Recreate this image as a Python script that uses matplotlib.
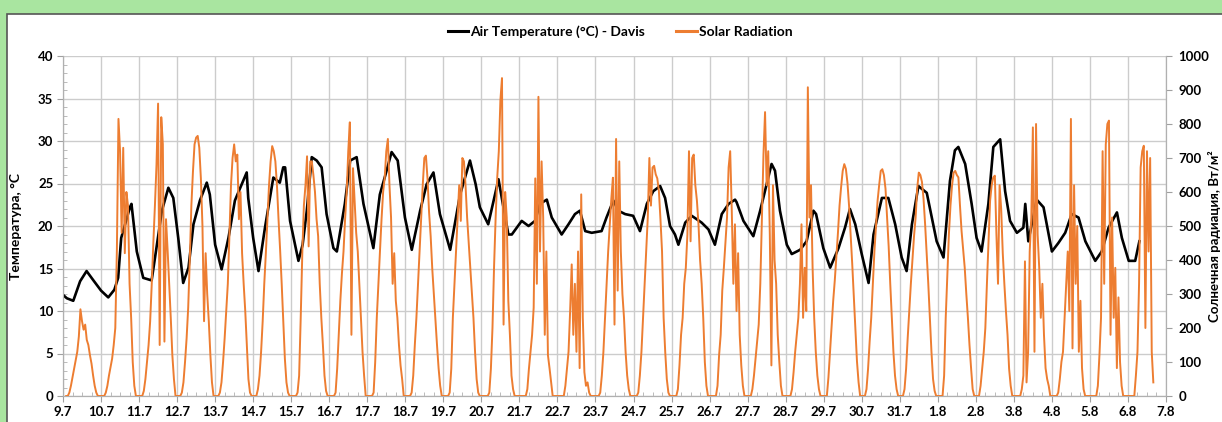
# -*- coding: utf-8 -*-
# air temperature (Davis) and solar radiation, 9.7 - 7.8

import matplotlib
matplotlib.use('Agg')
import matplotlib.pyplot as plt
from matplotlib.patches import Rectangle
from matplotlib.lines import Line2D
from matplotlib.ticker import MultipleLocator

plt.rcParams['font.family'] = ['Lato', 'Open Sans', 'DejaVu Sans']

# x axis day labels (one per day boundary)
day_labels = ['9.7', '10.7', '11.7', '12.7', '13.7', '14.7', '15.7', '16.7', '17.7', '18.7',
              '19.7', '20.7', '21.7', '22.7', '23.7', '24.7', '25.7', '26.7', '27.7', '28.7',
              '29.7', '30.7', '31.7', '1.8', '2.8', '3.8', '4.8', '5.8', '6.8', '7.8']

# air temperature, time in days from 9.7 00:00
temp_time = [0.0, 0.1, 0.27, 0.45, 0.62, 0.8, 1.0, 1.19, 1.35, 1.45, 1.53, 1.76, 1.8, 1.94,
             2.11, 2.33, 2.42, 2.6, 2.77, 2.9, 3.03, 3.16, 3.3, 3.43, 3.6, 3.78, 3.86, 4.0,
             4.17, 4.35, 4.52, 4.7, 4.83, 4.87, 5.0, 5.14, 5.31, 5.53, 5.7, 5.79, 5.84, 5.97,
             6.19, 6.3, 6.41, 6.54, 6.67, 6.8, 6.93, 7.11, 7.2, 7.41, 7.55, 7.72, 7.9, 8.16,
             8.33, 8.47, 8.64, 8.8, 8.99, 9.17, 9.39, 9.56, 9.74, 9.91, 10.18, 10.44, 10.7,
             10.85, 10.96, 11.18, 11.45, 11.58, 11.71, 11.8, 12.06, 12.24, 12.41, 12.54, 12.72,
             12.85, 13.11, 13.29, 13.46, 13.59, 13.73, 13.9, 14.16, 14.29, 14.47, 14.6, 14.78,
             14.99, 15.17, 15.35, 15.52, 15.7, 15.83, 15.96, 16.09, 16.18, 16.36, 16.53, 16.79,
             16.97, 17.14, 17.32, 17.5, 17.67, 17.71, 17.89, 18.15, 18.33, 18.5, 18.63, 18.72,
             18.85, 19.03, 19.16, 19.38, 19.55, 19.73, 19.8, 19.99, 20.17, 20.39, 20.56, 20.69,
             20.83, 21.0, 21.18, 21.31, 21.53, 21.7, 21.88, 22.05, 22.18, 22.32, 22.49, 22.71,
             22.97, 23.15, 23.32, 23.45, 23.54, 23.72, 23.89, 24.02, 24.15, 24.33, 24.46, 24.64,
             24.77, 24.9, 25.08, 25.25, 25.3, 25.38, 25.6, 25.78, 26.0, 26.17, 26.35, 26.52,
             26.7, 26.88, 27.14, 27.31, 27.49, 27.71, 27.84, 28.02, 28.19, 28.3]
temp_vals = [11.9, 11.5, 11.2, 13.5, 14.7, 13.6, 12.4, 11.6, 12.5, 13.9, 18.6, 22.2, 22.6, 17.0,
             13.9, 13.6, 16.3, 21.8, 24.5, 23.3, 18.6, 13.3, 15.1, 20.2, 23.0, 25.1, 23.7, 17.8,
             14.9, 18.6, 23.0, 24.9, 26.3, 23.3, 18.6, 14.7, 19.8, 25.7, 25.1, 26.9, 26.9, 20.6,
             15.9, 17.8, 21.8, 28.1, 27.7, 26.9, 21.4, 17.4, 17.0, 22.6, 27.7, 28.1, 22.6, 17.4,
             23.7, 25.9, 28.7, 27.7, 21.0, 17.2, 21.8, 24.9, 26.3, 21.4, 17.2, 23.7, 27.7,
             24.9, 22.2, 20.2, 25.5, 22.2, 19.0, 19.0, 20.6, 20.0, 20.6, 22.6, 23.1,
             21.0, 19.0, 20.2, 21.4, 21.8, 19.4, 19.2, 19.4, 21.0, 23.0, 21.8, 21.4,
             21.2, 19.4, 22.6, 24.1, 24.7, 23.3, 20.0, 19.0, 17.8, 20.4, 21.2, 20.4,
             19.6, 17.8, 21.4, 22.6, 23.1, 22.8, 20.6, 18.8, 21.8, 24.9, 27.3, 26.5,
             21.8, 17.8, 16.7, 17.2, 18.2, 21.8, 21.4, 17.4, 15.1, 17.4, 19.8, 22.0,
             20.2, 16.7, 13.3, 19.0, 23.3, 23.3, 20.2, 16.3, 14.7, 20.2, 24.7, 23.9,
             18.2, 16.3, 25.3, 28.9, 29.3, 27.3, 22.6, 18.6, 17.0, 22.6, 29.3, 30.2,
             24.1, 20.6, 19.2, 19.8, 22.6, 18.2, 23.1, 22.2, 17.0, 18.0, 19.2, 21.4,
             21.0, 18.2, 15.9, 17.0, 19.8, 21.6, 18.6, 15.9, 15.9, 18.2]

# solar radiation, W/m2, hourly from 02:00 of each day
solar_first_hour = 2
solar_days = [
    [0, 0, 10, 30, 55, 80, 105, 130, 175, 255, 220, 195, 210, 165, 150, 120, 95, 60, 30, 10, 0, 0],
    [0, 10, 30, 60, 85, 110, 150, 200, 430, 815, 720, 480, 730, 420, 600, 560, 330, 230, 100, 30, 0, 0],
    [0, 15, 50, 100, 150, 220, 330, 450, 560, 680, 860, 150, 820, 740, 160, 520, 430, 330, 230, 120, 50, 0],
    [0, 10, 40, 100, 170, 260, 400, 560, 660, 740, 760, 765, 730, 640, 500, 220, 420, 300, 220, 120, 40, 0],
    [0, 10, 40, 100, 170, 250, 330, 470, 620, 700, 740, 690, 710, 520, 600, 420, 330, 250, 150, 50, 10, 0],
    [0, 20, 60, 130, 220, 330, 420, 520, 620, 690, 735, 720, 690, 620, 520, 430, 330, 220, 110, 40, 10, 0],
    [0, 0, 10, 60, 230, 420, 560, 620, 705, 440, 690, 690, 650, 600, 520, 470, 330, 230, 150, 60, 15, 0],
    [0, 0, 10, 80, 180, 280, 360, 425, 520, 600, 720, 805, 180, 670, 575, 480, 425, 330, 230, 130, 60, 0],
    [0, 0, 10, 100, 230, 330, 425, 520, 600, 642, 720, 756, 620, 525, 330, 420, 280, 230, 150, 90, 50, 0],
    [0, 0, 10, 60, 150, 230, 330, 425, 520, 620, 700, 707, 640, 540, 470, 375, 300, 230, 150, 82, 30, 0],
    [0, 0, 10, 80, 230, 330, 425, 520, 620, 515, 700, 690, 620, 525, 450, 375, 300, 230, 130, 50, 10, 0],
    [0, 0, 0, 10, 80, 200, 380, 525, 642, 720, 870, 935, 210, 600, 525, 280, 180, 60, 20, 0, 0, 0],
    [0, 0, 0, 20, 80, 130, 180, 260, 640, 330, 880, 425, 690, 525, 180, 425, 120, 82, 40, 0, 0, 0],
    [0, 0, 0, 30, 80, 130, 250, 387, 180, 330, 130, 425, 82, 593, 230, 70, 30, 40, 10, 0, 0, 0],
    [0, 10, 60, 130, 230, 330, 425, 500, 580, 642, 210, 756, 310, 690, 425, 300, 230, 130, 60, 20, 0, 0],
    [0, 10, 60, 130, 230, 330, 430, 525, 700, 560, 672, 677, 652, 640, 603, 520, 425, 230, 130, 50, 10, 0],
    [0, 0, 20, 90, 180, 230, 330, 377, 475, 720, 455, 700, 710, 620, 575, 505, 400, 330, 230, 100, 30, 0],
    [0, 0, 0, 30, 120, 180, 310, 377, 450, 525, 672, 720, 545, 330, 505, 250, 420, 180, 90, 30, 0, 0],
    [0, 20, 60, 110, 160, 210, 330, 525, 710, 835, 620, 720, 475, 90, 620, 400, 330, 180, 100, 30, 0, 0],
    [0, 0, 20, 70, 130, 180, 230, 330, 505, 230, 377, 250, 908, 525, 620, 377, 230, 130, 60, 20, 0, 0],
    [0, 55, 130, 205, 280, 340, 410, 480, 560, 615, 662, 682, 668, 627, 560, 477, 389, 293, 191, 102, 41, 0],
    [0, 20, 80, 160, 230, 330, 425, 500, 574, 620, 662, 667, 650, 610, 525, 440, 330, 230, 130, 60, 20, 0],
    [0, 20, 80, 170, 250, 330, 400, 470, 525, 610, 657, 650, 630, 580, 505, 420, 330, 230, 130, 50, 15, 0],
    [0, 0, 60, 230, 350, 475, 560, 620, 657, 662, 650, 643, 560, 485, 430, 377, 300, 230, 150, 82, 20, 0],
    [0, 30, 80, 130, 200, 330, 450, 574, 620, 643, 648, 475, 330, 620, 550, 420, 330, 250, 180, 80, 30, 0],
    [0, 0, 0, 20, 60, 396, 40, 130, 425, 525, 790, 130, 800, 475, 377, 230, 330, 180, 82, 50, 30, 0],
    [0, 0, 10, 50, 100, 130, 230, 330, 425, 250, 815, 140, 620, 330, 500, 130, 280, 82, 20, 0, 0, 0],
    [0, 0, 0, 30, 120, 230, 720, 330, 740, 800, 810, 180, 525, 230, 377, 82, 290, 100, 30, 0, 0, 0],
    [0, 0, 0, 60, 130, 330, 672, 720, 736, 200, 720, 425, 700, 130, 40],
]

# flatten into time / value lists
solar_time = []
solar_vals = []
for d, vals in enumerate(solar_days):
    for i, v in enumerate(vals):
        solar_time.append(d + (solar_first_hour + i) / 24.0)
        solar_vals.append(v)

W, H = 1222, 422
fig = plt.figure(figsize=(W / 100, H / 100), dpi=100)
fig.patch.set_facecolor('#a9e5a0')

# white chart box with dark border
box = Rectangle((7 / W, -0.05), 1.1, 1 - 14 / H + 0.05, transform=fig.transFigure,
                facecolor='white', edgecolor='#555555', lw=1.2, zorder=-5)
fig.patches.append(box)

ax = fig.add_axes([63 / W, 1 - 396 / H, (1166 - 63) / W, (396 - 56) / H])
ax.set_facecolor('none')
ax2 = ax.twinx()

ax.plot(temp_time, temp_vals, color='black', lw=1.9, zorder=3)
ax2.plot(solar_time, solar_vals, color='#ED7D31', lw=1.4, zorder=3)

grid_col = '#cccccc'
ax.set_xlim(0, len(day_labels) - 1)
ax.set_ylim(0, 40)
ax2.set_ylim(0, 1000)

ax.set_xticks(range(len(day_labels)))
ax.set_xticklabels(day_labels)
ax.xaxis.set_minor_locator(MultipleLocator(0.25))
ax.yaxis.set_major_locator(MultipleLocator(5))
ax.yaxis.set_minor_locator(MultipleLocator(1))
ax2.yaxis.set_major_locator(MultipleLocator(100))

ax.grid(True, which='major', color=grid_col, lw=1.0)
ax.set_axisbelow(True)

for a in (ax, ax2):
    for s in a.spines.values():
        s.set_color('#b0b0b0')
    a.spines['top'].set_visible(False)

ax.tick_params(axis='both', which='major', direction='out', length=4, color='#a0a0a0',
               labelsize=9.5, pad=3)
ax.tick_params(axis='both', which='minor', direction='in', length=3, color='#b0b0b0')
ax2.tick_params(axis='y', which='major', direction='out', length=4, color='#a0a0a0',
                labelsize=9.5, pad=5)

for lab in ax.get_xticklabels() + ax.get_yticklabels() + ax2.get_yticklabels():
    lab.set_fontweight('bold')

ax.set_ylabel('Температура, °C', fontsize=10, fontweight='bold')
ax.yaxis.set_label_coords((22 - 63) / (1166 - 63), 0.5)
ax2.set_ylabel('Солнечная радиация, Вт/м²', fontsize=9.5, fontweight='bold', rotation=90)
ax2.yaxis.set_label_coords((1208 - 63) / (1166 - 63), 0.47)

handles = [Line2D([], [], color='black', lw=2.2),
           Line2D([], [], color='#ED7D31', lw=2.2)]
fig.legend(handles, ['Air Temperature (°C) - Davis', 'Solar Radiation'],
           loc='center', bbox_to_anchor=(620 / W, 1 - 32 / H), ncol=2, frameon=False,
           prop={'weight': 'bold', 'size': 10}, handlelength=1.5, handletextpad=0.15,
           columnspacing=2.2)

fig.savefig('out.png', dpi=100, facecolor=fig.get_facecolor())
